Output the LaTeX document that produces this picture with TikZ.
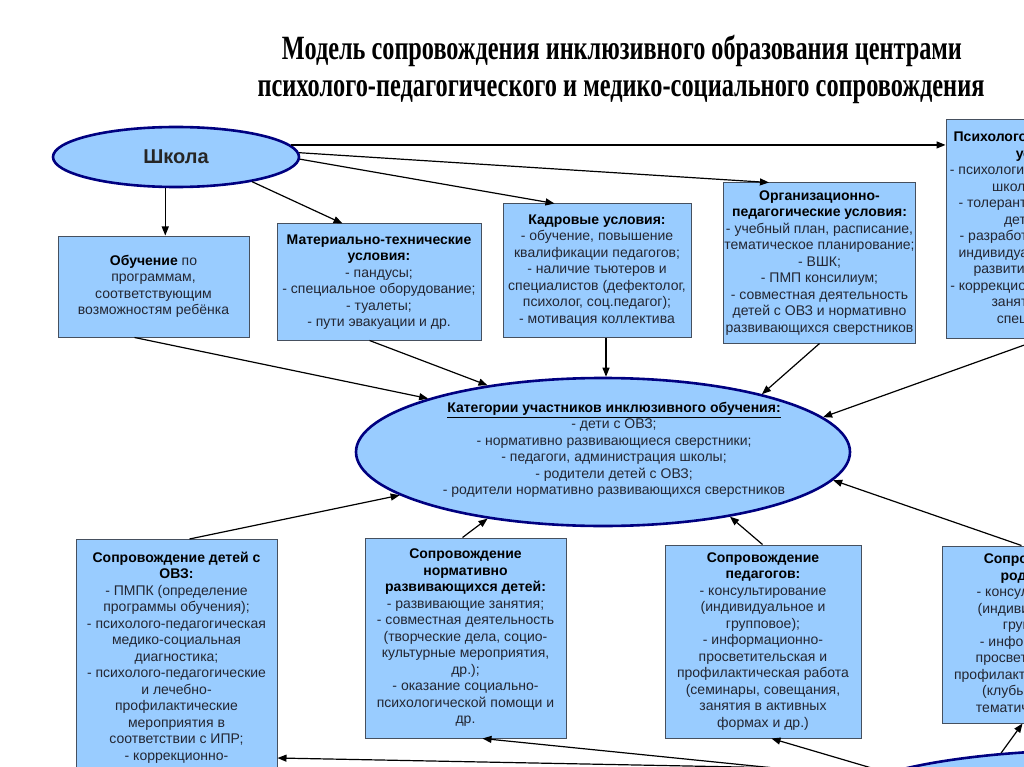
\documentclass[tikz,border=0pt]{standalone}
\usepackage{fontspec}
\usepackage{graphicx}
\setmainfont{Liberation Sans}
\newfontfamily\titlefont{Liberation Serif}
\usetikzlibrary{shapes.geometric,arrows.meta,calc}
\definecolor{boxfill}{RGB}{153,204,255}
\definecolor{boxline}{RGB}{70,80,95}
\definecolor{ovalline}{RGB}{0,0,128}
\definecolor{txt}{RGB}{35,38,50}
\newcommand{\bhead}[1]{\textbf{\color{black}#1}}
\begin{document}
\begin{tikzpicture}[x=1pt,y=-1pt,
  every node/.style={font=\fontsize{14}{16.5}\selectfont,text=txt},
  box/.style={draw=boxline,line width=1pt,fill=boxfill,align=center,inner xsep=1pt,inner ysep=0pt},
  oval/.style={ellipse,draw=ovalline,line width=2.6pt,fill=boxfill,inner sep=0pt},
  arr/.style={-{Triangle[length=9pt,width=7pt]},line width=1.2pt,black},
  ttl/.style={font=\titlefont\bfseries\fontsize{34}{37}\selectfont,text=black,anchor=base,inner sep=0pt}]
\useasboundingbox (0,0) rectangle (1024,767);
\clip (0,0) rectangle (1024,767);
% title
\node[ttl] (title1) at (622,60) {\resizebox{680pt}{\height}{Модель сопровождения инклюзивного образования центрами}};
\node[ttl] (title2) at (621,97) {\resizebox{727pt}{\height}{психолого-педагогического и медико-социального сопровождения}};
% school and its conditions
\node[oval,minimum width=246,minimum height=60,font=\bfseries\fontsize{20}{24}\selectfont,text=black!85] (school) at (176,157) {Школа};
\node[box,minimum width=191,minimum height=101] (obuch) at (153.5,286.5) {\bhead{Обучение} по\\программам,\\соответствующим\\возможностям ребёнка};
\node[box,minimum width=204,minimum height=116] (mater) at (379,282) {\bhead{Материально-технические}\\\bhead{условия:}\\- пандусы;\\- специальное оборудование;\\- туалеты;\\- пути эвакуации и др.};
\node[box,minimum width=188,minimum height=133] (kadr) at (597,270.5) {\bhead{Кадровые условия:}\\- обучение, повышение\\квалификации педагогов;\\- наличие тьютеров и\\специалистов (дефектолог,\\психолог, соц.педагог);\\- мотивация  коллектива};
\node[box,minimum width=187,minimum height=160] (org) at (819.5,263) {\bhead{Организационно-}\\\bhead{педагогические условия:}\\- учебный план, расписание,\\тематическое планирование;\\- ВШК;\\- ПМП консилиум;\\- совместная деятельность\\детей с ОВЗ и нормативно\\развивающихся сверстников};
\node[box,minimum width=202,minimum height=218] (psych) at (1047,229) {\bhead{Психолого-педагогические}\\\bhead{условия:}\\- психологически комфортная\\школьная среда;\\- толерантное отношение к\\детям с ОВЗ;\\- разработка и реализация\\индивидуальных программ\\развития детей с ОВЗ;\\- коррекционно-развивающие\\занятия с узкими\\специалистами};
% participants
\node[oval,minimum width=494,minimum height=148] (cats) at (603,452) {};
\node[align=center] (catstext) at (614,450) {\bhead{\underline{Категории участников инклюзивного обучения:}}\\- дети с ОВЗ;\\- нормативно развивающиеся сверстники;\\- педагоги, администрация школы;\\- родители детей с ОВЗ;\\- родители нормативно развивающихся сверстников};
% support
\node[box,minimum width=201,minimum height=236,anchor=north] (ovz) at (176.5,539) {\bhead{Сопровождение детей с}\\\bhead{ОВЗ:}\\- ПМПК (определение\\программы обучения);\\- психолого-педагогическая\\медико-социальная\\диагностика;\\- психолого-педагогические\\и лечебно-\\профилактические\\мероприятия в\\соответствии с ИПР;\\- коррекционно-};
\node[box,minimum width=201,minimum height=200] (norm) at (465.5,638) {\bhead{Сопровождение}\\\bhead{нормативно}\\\bhead{развивающихся детей:}\\- развивающие занятия;\\- совместная деятельность\\(творческие дела,  социо-\\культурные мероприятия,\\др.);\\- оказание социально-\\психологической помощи и\\др.};
\node[box,minimum width=196,minimum height=193] (ped) at (763,641.5) {\bhead{Сопровождение}\\\bhead{педагогов:}\\- консультирование\\(индивидуальное и\\групповое);\\- информационно-\\просветительская и\\профилактическая работа\\(семинары, совещания,\\занятия в активных\\формах и др.)};
\node[box,minimum width=196,minimum height=177] (par) at (1040,634.5) {\bhead{Сопровождение}\\\bhead{родителей:}\\- консультирование\\(индивидуальное и\\групповое);\\- информационно-\\просветительская и\\профилактическая работа\\(клубы, лектории,\\тематич. собрания)};
\node[oval,minimum width=540,minimum height=120] (cen) at (1100,810) {};
% arrows from school
\draw[arr] (school.251) -- (school.251 |- obuch.north);
\draw[arr] (school.342) -- ($(mater.north west)+(66,0)$);
\draw[arr] (school.-1) -- ($(kadr.north west)+(52,0)$);
\draw[arr] (school.2.4) -- ($(org.north west)+(46,0)$);
\draw[arr] (school.6.1) -- (school.6.1 -| psych.west);
% arrows into participants
\draw[arr] ($(obuch.south west)+(77,0)$) -- (cats.163);
\draw[arr] ($(mater.south west)+(93,0)$) -- (cats.150);
\draw[arr] ($(kadr.south)+(9,0)$) -- ($(cats.north)+(3,0)$);
\draw[arr] (org.south) -- (cats.20.6);
\draw[arr] ($(psych.south west)+(97,0)$) -- (cats.9);
\draw[arr] ($(ovz.north west)+(114,0)$) -- (cats.192.6);
\draw[arr] ($(norm.north west)+(98,0)$) -- (cats.210);
\draw[arr] ($(ped.north west)+(98,0)$) -- (cats.333.6);
\draw[arr] ($(par.north west)+(80,0)$) -- (cats.353);
% arrows from centre
\draw[arr] (cen.169.7) -- ($(ovz.north east)+(0,219)$);
\draw[arr] (cen.172) -- ($(norm.south west)+(118,0)$);
\draw[arr] (cen.170.5) -- ($(ped.south west)+(107,0)$);
\draw[arr] (cen.150.4) -- ($(par.south west)+(81,0)$);
\end{tikzpicture}
\end{document}
